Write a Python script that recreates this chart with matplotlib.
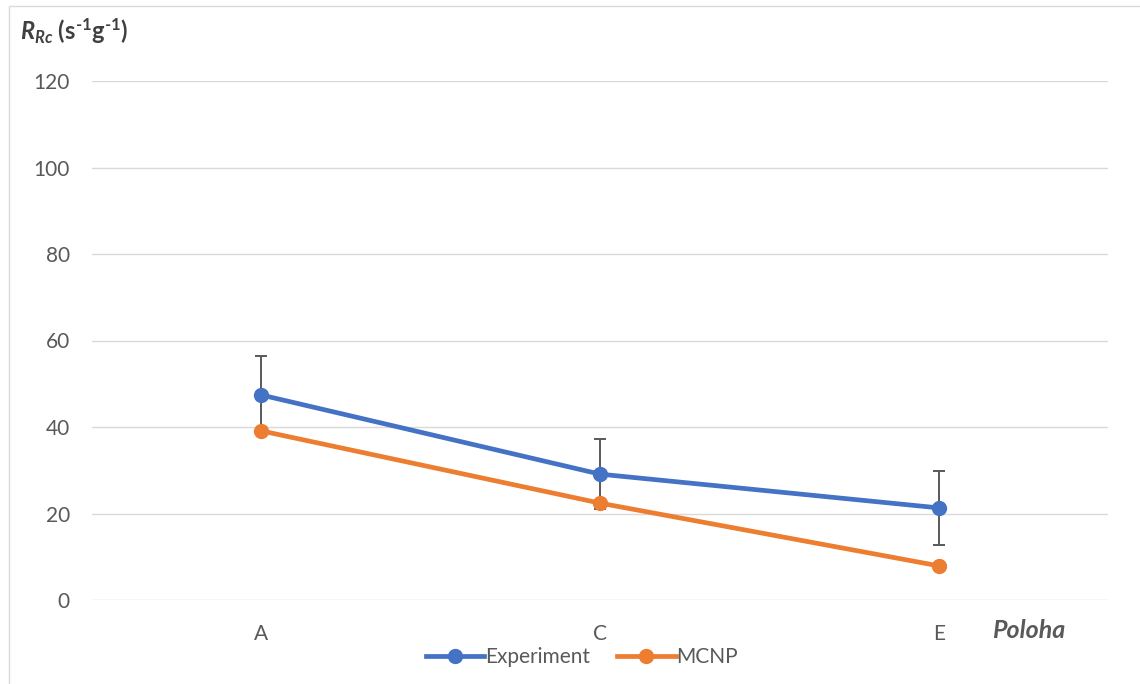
#!/usr/bin/env python3
"""Reaction rate per position: experiment vs MCNP."""

import matplotlib

matplotlib.use("Agg")
import matplotlib.pyplot as plt
from matplotlib.patches import Rectangle

positions = ["A", "C", "E"]
experiment = [47.4, 29.1, 21.3]
experiment_err = [9.0, 8.1, 8.5]
mcnp = [39.1, 22.4, 7.9]

BLUE = "#4472C4"
ORANGE = "#ED7D31"
GRAY = "#595959"
GRID = "#D9D9D9"

plt.rcParams["font.family"] = ["Lato", "DejaVu Sans"]
plt.rcParams["mathtext.fontset"] = "custom"
plt.rcParams["mathtext.it"] = "Lato:bold:italic"
plt.rcParams["mathtext.rm"] = "Lato:bold"

W, H = 1140, 684
fig = plt.figure(figsize=(W / 100, H / 100), dpi=100)
ax = fig.add_axes([92 / W, 1 - 600 / H, (1108 - 92) / W, (600 - 81) / H])

x = range(len(positions))
ax.errorbar(x, experiment, yerr=experiment_err, fmt="none", ecolor=GRAY,
            elinewidth=1.4, capsize=4.5, capthick=1.4, zorder=2)
ax.plot(x, experiment, color=BLUE, lw=3.4, marker="o", ms=10,
        label="Experiment", zorder=4)
ax.plot(x, mcnp, color=ORANGE, lw=3.4, marker="o", ms=10,
        label="MCNP", zorder=3)

ax.set_xlim(-0.5, len(positions) - 0.5)
ax.set_ylim(0, 120)
ax.set_yticks(range(0, 121, 20))
ax.set_xticks(list(x))
ax.set_xticklabels(positions)
ax.grid(axis="y", color=GRID, lw=1)
ax.set_axisbelow(True)
for s in ax.spines.values():
    s.set_visible(False)
ax.tick_params(length=0, labelsize=15, colors=GRAY)
ax.tick_params(axis="x", pad=17)
ax.tick_params(axis="y", pad=16)

fig.text(992 / W, 1 - 631 / H, "Poloha", fontsize=18, fontweight="bold",
         fontstyle="italic", color=GRAY, va="center", ha="left")
fig.text(20 / W, 1 - 31 / H, r"$R_{Rc}$ (s$^{\text{-1}}$g$^{\text{-1}}$)",
         fontsize=17, fontweight="bold", color="#404040", va="center", ha="left")

leg = fig.legend(loc="center", bbox_to_anchor=(582 / W, 1 - 657 / H), ncol=2,
                 frameon=False, fontsize=15, handlelength=2.8, columnspacing=1.3,
                 handletextpad=0.05, borderaxespad=0)
for t in leg.get_texts():
    t.set_color(GRAY)

fig.patches.append(Rectangle((9 / W, -0.1), 1.2, 1 - 6 / H + 0.1,
                             transform=fig.transFigure, fill=False,
                             edgecolor=GRID, lw=1))

fig.savefig("out.png", dpi=100)
